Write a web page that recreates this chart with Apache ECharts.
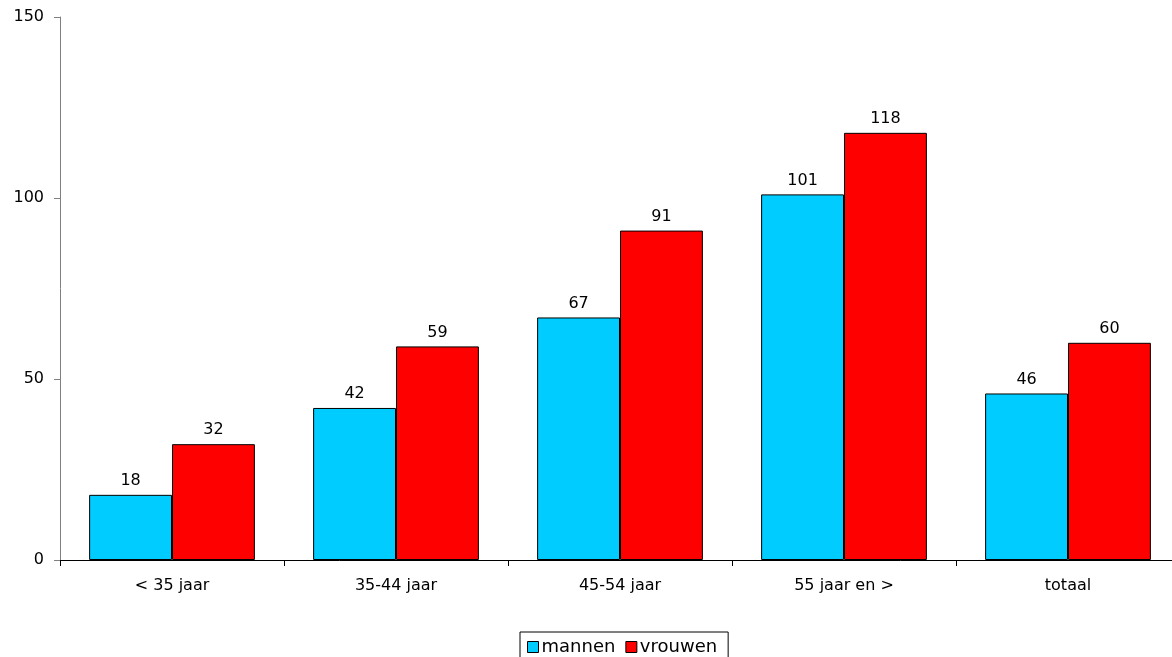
<!DOCTYPE html>
<html>
<head>
<meta charset="utf-8">
<script src="https://cdn.jsdelivr.net/npm/echarts@6/dist/echarts.min.js"></script>
<style>
  html, body { margin: 0; padding: 0; background: #fff; overflow: hidden; }
  #chart { width: 1180px; height: 657px; }
</style>
</head>
<body>
<div id="chart"></div>
<script>
const categories = ['< 35 jaar', '35-44 jaar', '45-54 jaar', '55 jaar en >', 'totaal']
const mannen = [18, 42, 67, 101, 46]
const vrouwen = [32, 59, 91, 118, 60]

const chart = echarts.init(document.getElementById('chart'))
const font = 'DejaVu Sans, Verdana, sans-serif'

const barLabel = {
  show: true,
  position: 'top',
  distance: 6,
  color: '#000',
  fontFamily: font,
  fontSize: 16
}

chart.setOption({
  animation: false,
  textStyle: { fontFamily: font },
  grid: { left: 60, right: 0, top: 17, bottom: 97 },
  legend: {
    top: 632,
    left: 520,
    icon: 'rect',
    itemWidth: 11,
    itemHeight: 11,
    itemGap: 10,
    padding: [6, 11, 8, 7],
    borderColor: '#000',
    borderWidth: 1,
    textStyle: { fontFamily: font, fontSize: 18, color: '#000', padding: [0, 0, 0, -2] },
    data: [
      { name: 'mannen', itemStyle: { color: '#00CCFF', borderColor: '#000', borderWidth: 1 } },
      { name: 'vrouwen', itemStyle: { color: '#FF0000', borderColor: '#000', borderWidth: 1 } }
    ]
  },
  xAxis: {
    type: 'category',
    data: categories,
    axisLine: { lineStyle: { color: '#000', width: 1 } },
    axisTick: { show: true, length: 6, inside: false, lineStyle: { color: '#000' } },
    axisLabel: { color: '#000', fontSize: 16, fontFamily: font, margin: 18 },
    splitLine: { show: false }
  },
  yAxis: {
    type: 'value',
    min: 0,
    max: 150,
    interval: 50,
    axisLine: { show: true, lineStyle: { color: '#808080', width: 1 } },
    axisTick: { show: true, length: 6, lineStyle: { color: '#808080' } },
    axisLabel: { color: '#000', fontSize: 16, fontFamily: font, margin: 16 },
    splitLine: { show: false }
  },
  series: [
    {
      name: 'mannen',
      type: 'bar',
      data: mannen,
      barGap: '0%',
      barCategoryGap: '26%',
      itemStyle: { color: '#00CCFF', borderColor: '#000', borderWidth: 1 },
      label: barLabel
    },
    {
      name: 'vrouwen',
      type: 'bar',
      data: vrouwen,
      itemStyle: { color: '#FF0000', borderColor: '#000', borderWidth: 1 },
      label: barLabel
    }
  ]
})
</script>
</body>
</html>
